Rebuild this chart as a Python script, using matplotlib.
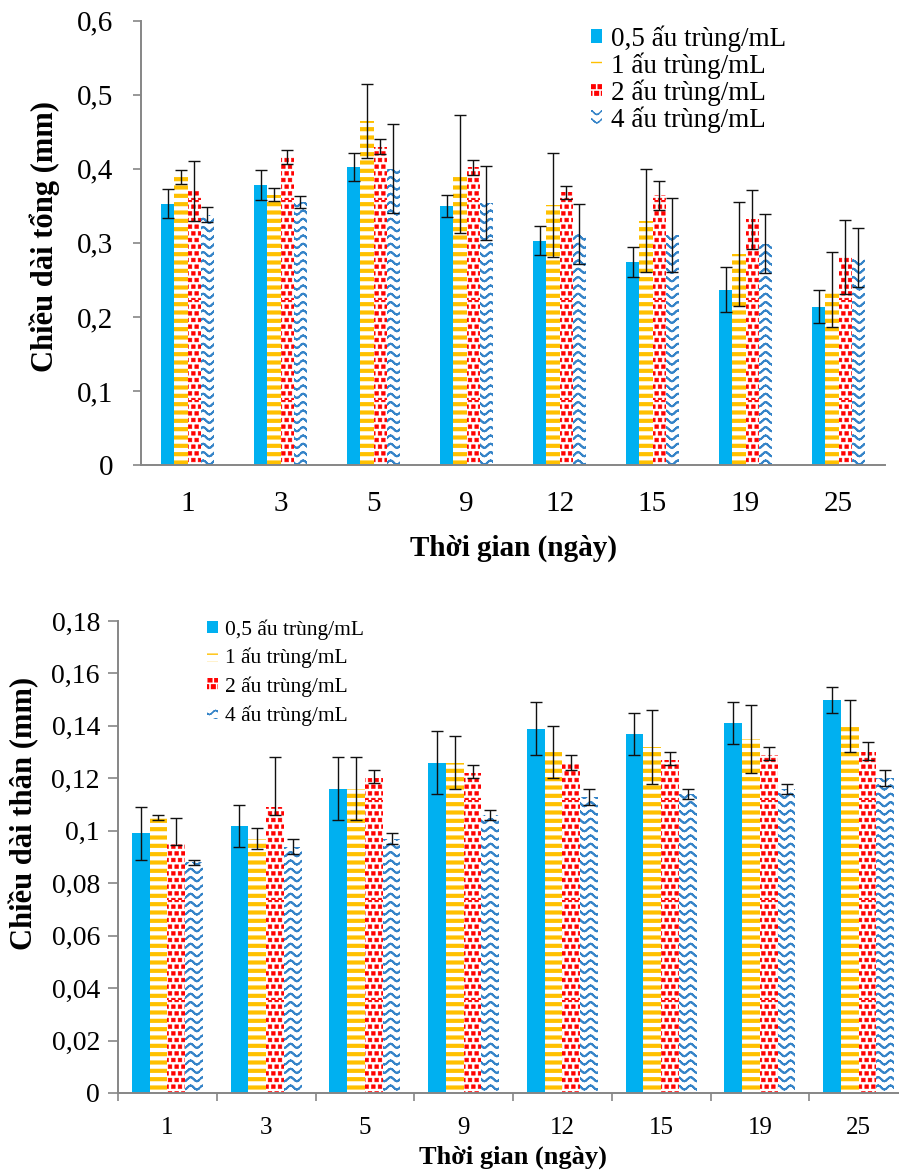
import warnings
import numpy as np
import matplotlib
matplotlib.use('Agg')
import matplotlib.pyplot as plt
from matplotlib import hatch as mhatch
from matplotlib.path import Path
from matplotlib.ticker import FuncFormatter

# custom hatch chars ('~', '#') give a deprecation warning, it still works
warnings.filterwarnings('ignore')

plt.rcParams['font.family'] = ['Liberation Serif', 'DejaVu Serif']

days = ['1', '3', '5', '9', '12', '15', '19', '25']
labels = ['0,5 ấu trùng/mL', '1 ấu trùng/mL', '2 ấu trùng/mL', '4 ấu trùng/mL']

# Chieu dai tong (mm), top chart
tong_05 = [0.353, 0.378, 0.402, 0.350, 0.303, 0.274, 0.237, 0.214]
tong_1 = [0.389, 0.365, 0.464, 0.393, 0.351, 0.330, 0.285, 0.237]
tong_2 = [0.370, 0.416, 0.430, 0.402, 0.368, 0.364, 0.332, 0.281]
tong_4 = [0.338, 0.355, 0.400, 0.354, 0.312, 0.311, 0.299, 0.280]
tong_05_err = [0.020, 0.020, 0.019, 0.015, 0.020, 0.020, 0.030, 0.022]
tong_1_err = [0.010, 0.009, 0.050, 0.080, 0.070, 0.070, 0.070, 0.050]
tong_2_err = [0.040, 0.009, 0.010, 0.010, 0.009, 0.020, 0.040, 0.050]
tong_4_err = [0.010, 0.008, 0.060, 0.050, 0.040, 0.050, 0.040, 0.040]

# Chieu dai than (mm), bottom chart
than_05 = [0.099, 0.102, 0.116, 0.126, 0.139, 0.137, 0.141, 0.150]
than_1 = [0.105, 0.097, 0.116, 0.126, 0.130, 0.132, 0.135, 0.140]
than_2 = [0.095, 0.109, 0.120, 0.122, 0.126, 0.127, 0.129, 0.130]
than_4 = [0.088, 0.094, 0.097, 0.106, 0.113, 0.114, 0.116, 0.120]
than_05_err = [0.010, 0.008, 0.012, 0.012, 0.010, 0.008, 0.008, 0.005]
than_1_err = [0.001, 0.004, 0.012, 0.010, 0.010, 0.014, 0.013, 0.010]
than_2_err_lo = [0.0005, 0.003, 0.0016, 0.0017, 0.003, 0.002, 0.002, 0.003]
than_2_err_hi = [0.010, 0.019, 0.003, 0.003, 0.003, 0.003, 0.003, 0.004]
than_4_err = [0.001, 0.003, 0.002, 0.002, 0.003, 0.002, 0.002, 0.003]


class WaveHatch(mhatch.HatchPatternBase):
    # '~' -> wavy horizontal lines (excel "wave" pattern)
    def __init__(self, hatch, density):
        self.num_lines = int(hatch.count('~') * density)
        self.num_seg = 64
        self.num_vertices = self.num_lines * self.num_seg * 2

    def set_vertices_and_codes(self, vertices, codes):
        xs = np.linspace(0.0, 1.0, self.num_seg + 1)
        k = 0
        for i in range(self.num_lines):
            ys = (i + 0.5) / self.num_lines + 0.02 * np.sin(2 * np.pi * 8 * xs)
            # separate little segments so the agg fill step draws nothing
            for j in range(self.num_seg):
                vertices[k] = xs[j], ys[j]
                vertices[k + 1] = xs[j + 1], ys[j + 1]
                codes[k] = Path.MOVETO
                codes[k + 1] = Path.LINETO
                k += 2


class SquareDots(mhatch.HatchPatternBase):
    # '#' -> staggered small filled squares (excel "confetti")
    size = 0.55

    def __init__(self, hatch, density):
        self.num_rows = int(hatch.count('#') * density * 1.25)
        self.centers = []
        if self.num_rows:
            off = 1.0 / self.num_rows
            for row in range(self.num_rows + 1):
                if row % 2 == 0:
                    cols = np.linspace(0, 1, self.num_rows + 1)
                else:
                    cols = np.linspace(off / 2, 1 - off / 2, self.num_rows)
                self.centers += [(c, row * off) for c in cols]
        self.num_vertices = len(self.centers) * 5

    def set_vertices_and_codes(self, vertices, codes):
        half = 0.5 * self.size / self.num_rows
        sq = np.array([[-1, -1], [1, -1], [1, 1], [-1, 1], [-1, -1]]) * half
        for n, (cx, cy) in enumerate(self.centers):
            vertices[n * 5:n * 5 + 5] = sq + [cx, cy]
            codes[n * 5:n * 5 + 5] = [Path.MOVETO, Path.LINETO, Path.LINETO,
                                      Path.LINETO, Path.CLOSEPOLY]


mhatch._hatch_types.extend([WaveHatch, SquareDots])

styles = [
    dict(facecolor='#00B0F0', edgecolor='#00B0F0', hatch=None, hlw=1.0),
    dict(facecolor='white', edgecolor='#FFC000', hatch='--', hlw=3.0),
    dict(facecolor='white', edgecolor='#FF0000', hatch='##', hlw=0.4),
    dict(facecolor='white', edgecolor='#3584C8', hatch='~~', hlw=1.4),
]

comma = FuncFormatter(lambda v, pos: f'{round(v, 3):g}'.replace('.', ','))


def grouped_bars(ax, values, errs, width, capsize):
    x = np.arange(len(days))
    handles = []
    for i, (vals, st) in enumerate(zip(values, styles)):
        pos = x + (i - 1.5) * width
        with plt.rc_context({'hatch.linewidth': st['hlw']}):
            bars = ax.bar(pos, vals, width, facecolor=st['facecolor'],
                          edgecolor=st['edgecolor'], hatch=st['hatch'],
                          linewidth=0, label=labels[i], zorder=2)
        for b in bars:
            if hasattr(b, 'set_hatch_linewidth'):
                b.set_hatch_linewidth(st['hlw'])
        ax.errorbar(pos, vals, yerr=errs[i], fmt='none', ecolor='#111111',
                    elinewidth=1.0, capsize=capsize, capthick=1.0, zorder=3)
        handles.append(bars)
    ax.set_xlim(-0.5, len(days) - 0.5)
    for s in ['top', 'right']:
        ax.spines[s].set_visible(False)
    for s in ['left', 'bottom']:
        ax.spines[s].set_color('#868686')
        ax.spines[s].set_linewidth(1.4)
    ax.yaxis.set_major_formatter(comma)
    return handles


fig = plt.figure(figsize=(8.99, 11.7), dpi=100)

# ---- top: chieu dai tong
ax1 = fig.add_axes([141 / 899, 1 - 465 / 1170, 744 / 899, 444.3 / 1170])
h1 = grouped_bars(ax1, [tong_05, tong_1, tong_2, tong_4],
                  [tong_05_err, tong_1_err, tong_2_err, tong_4_err], 0.1414, 4.5)
ax1.set_ylim(0, 0.6)
ax1.set_yticks(np.arange(0, 0.61, 0.1))
ax1.set_xticks(np.arange(len(days)))
ax1.set_xticklabels(days)
ax1.tick_params(axis='x', length=0, pad=19, labelsize=21)
ax1.tick_params(axis='y', length=6, width=1.2, color='#868686', pad=14, labelsize=21)
ax1.set_xlabel('Thời gian (ngày)', fontsize=21, fontweight='bold', va='center')
ax1.xaxis.set_label_coords(0.5, (465 - 548) / 444.3)
ax1.set_ylabel('Chiều dài tổng (mm)', fontsize=22, fontweight='bold', va='center')
ax1.yaxis.set_label_coords((45 - 141) / 744, (465 - 237) / 444.3)
ax1.legend(h1, labels, loc='upper left', bbox_to_anchor=(591 / 899, 1 - 25 / 1170),
           bbox_transform=fig.transFigure, frameon=False, fontsize=19.5,
           handlelength=0.4, handleheight=0.4, handletextpad=0.35,
           labelspacing=0.02, borderpad=0, borderaxespad=0)

# ---- bottom: chieu dai than
ax2 = fig.add_axes([118 / 899, 1 - 1093 / 1170, 790 / 899, 472 / 1170])
h2 = grouped_bars(ax2, [than_05, than_1, than_2, than_4],
                  [than_05_err, than_1_err, [than_2_err_lo, than_2_err_hi], than_4_err],
                  0.18, 4)
ax2.set_ylim(0, 0.18)
ax2.set_yticks(np.linspace(0, 0.18, 10))
ax2.set_xticks(np.arange(len(days)))
ax2.set_xticklabels(days)
ax2.set_xticks(np.arange(-0.5, len(days), 1), minor=True)
ax2.tick_params(axis='x', which='major', length=0, pad=17, labelsize=18)
ax2.tick_params(axis='x', which='minor', length=6, width=1.2, color='#868686')
ax2.tick_params(axis='y', length=7, width=1.2, color='#868686', pad=6, labelsize=20)
ax2.set_xlabel('Thời gian (ngày)', fontsize=19, fontweight='bold', va='center')
ax2.xaxis.set_label_coords((513 - 118) / 790, (1093 - 1157) / 472)
ax2.set_ylabel('Chiều dài thân (mm)', fontsize=22, fontweight='bold', va='center')
ax2.yaxis.set_label_coords((24.5 - 118) / 790, (1093 - 813) / 472)
ax2.legend(h2, labels, loc='upper left', bbox_to_anchor=(207 / 899, 1 - 619 / 1170),
           bbox_transform=fig.transFigure, frameon=False, fontsize=15.5,
           handlelength=0.5, handleheight=0.5, handletextpad=0.35,
           labelspacing=0.38, borderpad=0, borderaxespad=0)

fig.savefig('out.png', dpi=100)
